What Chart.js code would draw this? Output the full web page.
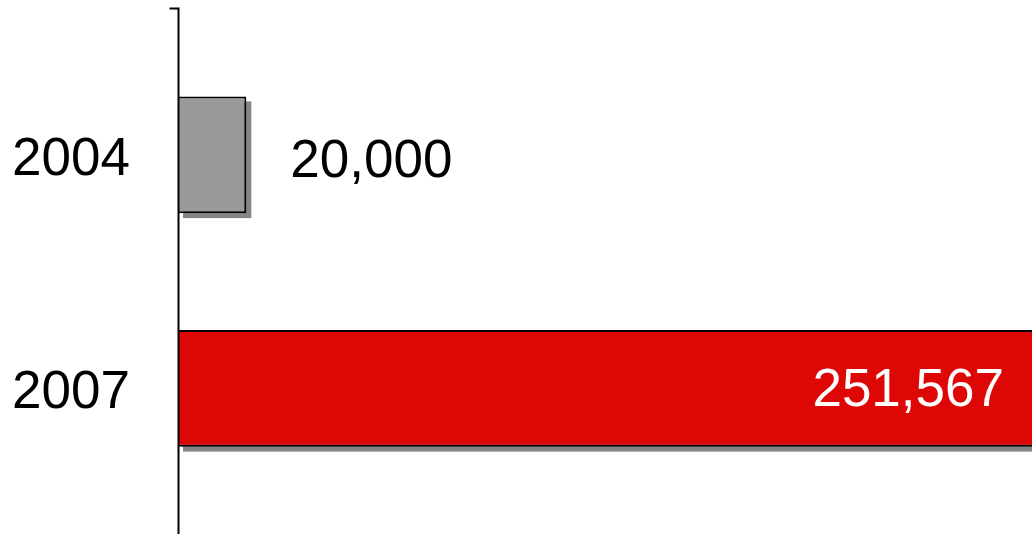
<!DOCTYPE html>
<html>
<head>
<meta charset="utf-8">
<script src="https://cdn.jsdelivr.net/npm/chart.js@4/dist/chart.umd.min.js"></script>
<style>
  html, body { margin: 0; padding: 0; background: #fff; }
  #wrap { width: 1032px; height: 534px; position: relative; }
</style>
</head>
<body>
<div id="wrap"><canvas id="c"></canvas></div>
<script>
const categories = ['2004', '2007'];
const values = [20000, 251567];
const barColors = ['#999999', '#DD0806'];
const valueLabels = ['20,000', '251,567'];

const FONT = '"Liberation Sans", Arial, Helvetica, sans-serif';

const shadowPlugin = {
  id: 'shadow',
  beforeDatasetsDraw(chart) {
    const ctx = chart.ctx;
    const meta = chart.getDatasetMeta(0);
    const area = chart.chartArea;
    ctx.save();
    ctx.fillStyle = '#858585';
    meta.data.forEach(bar => {
      const p = bar.getProps(['x', 'y', 'base', 'height'], true);
      const x1 = Math.min(p.x, area.right);
      ctx.fillRect(p.base + 5, p.y - p.height / 2 + 5, x1 - p.base, p.height);
    });
    ctx.restore();
  }
};

const axisPlugin = {
  id: 'axisLine',
  afterDatasetsDraw(chart) {
    const ctx = chart.ctx;
    const area = chart.chartArea;
    const x = Math.round(area.left) + 0.5;
    const top = 8.5;
    ctx.save();
    ctx.strokeStyle = '#000';
    ctx.lineWidth = 2;
    ctx.beginPath();
    ctx.moveTo(x - 9, top);
    ctx.lineTo(x, top);
    ctx.lineTo(x, chart.height);
    ctx.stroke();
    ctx.restore();
  }
};

const labelPlugin = {
  id: 'valueLabels',
  afterDraw(chart) {
    const ctx = chart.ctx;
    const meta = chart.getDatasetMeta(0);
    const area = chart.chartArea;
    const yScale = chart.scales.y;
    ctx.save();
    ctx.textBaseline = 'alphabetic';
    ctx.font = '53px ' + FONT;
    ctx.fillStyle = '#000000';
    ctx.textAlign = 'right';
    categories.forEach((c, i) => {
      ctx.fillText(c, area.left - 48, yScale.getPixelForTick(i) + 20);
    });
    meta.data.forEach((bar, i) => {
      const p = bar.getProps(['x', 'y', 'base', 'height'], true);
      if (p.x >= area.right - 150) {
        ctx.fillStyle = '#ffffff';
        ctx.textAlign = 'right';
        ctx.fillText(valueLabels[i], Math.min(p.x, area.right) - 28, p.y + 18);
      } else {
        ctx.fillStyle = '#000000';
        ctx.textAlign = 'left';
        ctx.fillText(valueLabels[i], p.x + 44, p.y + 22);
      }
    });
    ctx.restore();
  }
};

new Chart(document.getElementById('c'), {
  type: 'bar',
  data: {
    labels: categories,
    datasets: [{
      data: values,
      backgroundColor: barColors,
      borderColor: '#000000',
      borderWidth: 2,
      borderSkipped: 'start',
      categoryPercentage: 1.0,
      barPercentage: 0.5
    }]
  },
  options: {
    indexAxis: 'y',
    responsive: true,
    maintainAspectRatio: false,
    animation: false,
    devicePixelRatio: 1,
    layout: { padding: { left: 12, right: 0, top: 38, bottom: 29 } },
    plugins: { legend: { display: false }, tooltip: { enabled: false } },
    scales: {
      x: {
        display: false,
        min: 0,
        max: 250000
      },
      y: {
        grid: { display: false, drawTicks: false },
        border: { display: false },
        ticks: { display: false },
        afterFit(scale) { scale.width = 166; }
      }
    }
  },
  plugins: [shadowPlugin, axisPlugin, labelPlugin]
});
</script>
</body>
</html>
